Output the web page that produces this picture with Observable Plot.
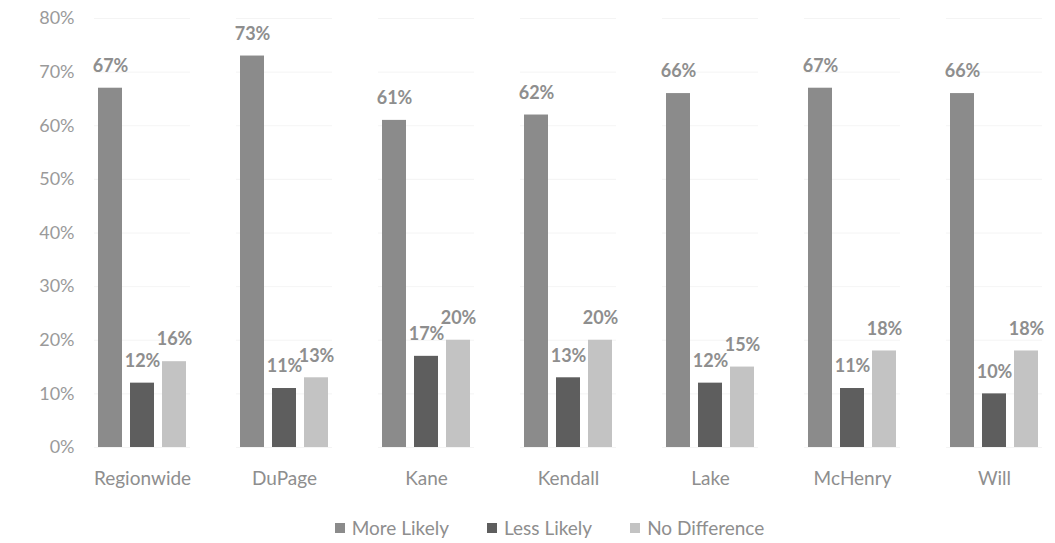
<!DOCTYPE html>
<html>
<head>
<meta charset="utf-8">
<script src="https://cdn.jsdelivr.net/npm/d3@7"></script>
<script src="https://cdn.jsdelivr.net/npm/@observablehq/plot@0.6"></script>
<style>
  html, body { margin: 0; padding: 0; background: #fff; }
  body { width: 1055px; height: 543px; overflow: hidden; font-family: Lato, "Open Sans", sans-serif; }
  #legend { display: flex; justify-content: center; gap: 38px; margin-top: 16px; padding-left: 44px; font-size: 19px; color: #8e8e8e; }
  #legend span.item { display: inline-flex; align-items: center; gap: 7px; }
  #legend span.sw { width: 10px; height: 10px; display: inline-block; }
</style>
</head>
<body>
<div id="chart"></div>
<div id="legend"></div>
<script>
const regions = ["Regionwide", "DuPage", "Kane", "Kendall", "Lake", "McHenry", "Will"];
const series = ["More Likely", "Less Likely", "No Difference"];
const moreLikely = [67, 73, 61, 62, 66, 67, 66];
const lessLikely = [12, 11, 17, 13, 12, 11, 10];
const noDifference = [16, 13, 20, 20, 15, 18, 18];
const colors = ["#8b8b8b", "#5e5e5e", "#c3c3c3"];
const yTicks = [0, 10, 20, 30, 40, 50, 60, 70, 80];

const valuesBySeries = [moreLikely, lessLikely, noDifference];
const data = [];
regions.forEach((r, i) => {
  series.forEach((s, j) => data.push({region: r, series: s, value: valuesBySeries[j][i]}));
});

const chart = Plot.plot({
  width: 1055,
  height: 500,
  marginTop: 18,
  marginBottom: 53,
  marginLeft: 70,
  marginRight: 0,
  style: {fontFamily: "Lato, 'Open Sans', sans-serif", fontSize: "18px", color: "#8e8e8e", background: "#fff"},
  fx: {domain: regions, range: [68, 1068], paddingInner: 0.327, paddingOuter: 0.1635, label: null},
  x: {domain: series, paddingInner: 0.25, paddingOuter: 0.125, axis: null},
  y: {domain: [0, 80], label: null},
  color: {domain: series, range: colors},
  marks: [
    Plot.gridY(yTicks, {stroke: "#ececec", strokeOpacity: 0.6}),
    Plot.axisY(yTicks, {tickSize: 0, tickPadding: 20, tickFormat: d => d + "%", fontSize: 18, fill: "#9a9a9a"}),
    Plot.axisFx({anchor: "bottom", tickSize: 0, tickPadding: 24, fontSize: 19, fill: "#8e8e8e", label: null}),
    Plot.barY(data, {fx: "region", x: "series", y: "value", fill: "series"}),
    Plot.text(data, {fx: "region", x: "series", y: "value", text: d => d.value + "%", dy: -22, fontSize: 18, fontWeight: "bold", fill: "#8e8e8e"})
  ]
});
document.getElementById("chart").appendChild(chart);

const legend = document.getElementById("legend");
series.forEach((s, j) => {
  const item = document.createElement("span");
  item.className = "item";
  const sw = document.createElement("span");
  sw.className = "sw";
  sw.style.background = colors[j];
  item.appendChild(sw);
  item.appendChild(document.createTextNode(s));
  legend.appendChild(item);
});
</script>
</body>
</html>
